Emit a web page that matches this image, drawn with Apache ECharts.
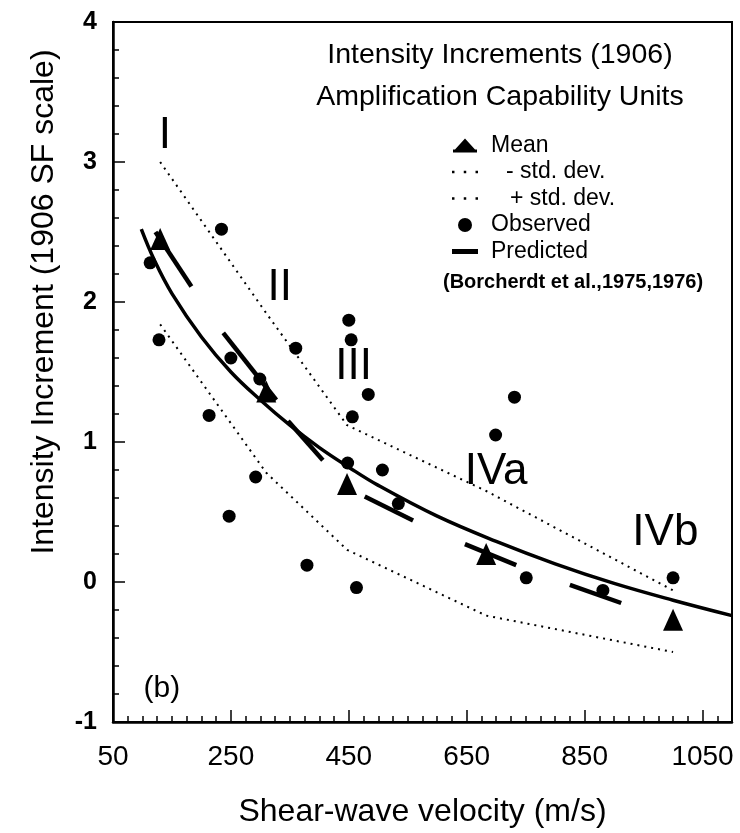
<!DOCTYPE html>
<html>
<head>
<meta charset="utf-8">
<title>Intensity Increments (1906)</title>
<script src="https://cdn.jsdelivr.net/npm/echarts@6.0.0/dist/echarts.min.js"></script>
<style>
  html, body { margin: 0; padding: 0; background: #fff; }
  #chart { width: 740px; height: 833px; }
</style>
</head>
<body>
<div id="chart"></div>
<script>
// values
const meanV = [130, 310, 447, 683, 1000];
const meanI = [2.45, 1.36, 0.70, 0.20, -0.27];
const minusStdI = [1.84, 0.78, 0.23, -0.24, -0.50];
const plusStdI = [3.00, 1.92, 1.12, 0.65, -0.06];

const obsV = [113, 128, 234, 213, 250, 247, 292, 299, 360, 379, 448, 450, 454, 456, 463, 483, 507, 534, 699, 731, 751, 881, 1000];
const obsI = [2.28, 1.73, 2.52, 1.19, 1.60, 0.47, 0.75, 1.45, 1.67, 0.12, 0.85, 1.87, 1.73, 1.18, -0.04, 1.34, 0.80, 0.56, 1.05, 1.32, 0.03, -0.06, 0.03];

// fitted curve (solid)
const curveV = [98, 120, 150, 200, 250, 300, 350, 400, 450, 500, 600, 700, 800, 900, 1000, 1100];
const curveI = [2.52, 2.30, 2.06, 1.75, 1.50, 1.30, 1.12, 0.96, 0.82, 0.69, 0.47, 0.29, 0.13, -0.01, -0.13, -0.24];

// predicted segments, one per unit
const predicted = [
  [[122, 2.50], [183, 2.11]],
  [[237, 1.78], [327, 1.30]],
  [[347, 1.15], [406, 0.87]],
  [[477, 0.61], [559, 0.44]],
  [[647, 0.27], [734, 0.12]],
  [[825, -0.02], [912, -0.15]]
];

const unitNames = ['I', 'II', 'III', 'IVa', 'IVb'];
const unitLabelV = [138, 333, 458, 700, 987];
const unitLabelI = [3.19, 2.10, 1.54, 0.79, 0.35];

const panelTag = { name: '(b)', v: 133, i: -0.76 };

const FONT = "'Liberation Sans', Arial, Helvetica, sans-serif";

function pairs(xs, ys) {
  return xs.map(function (x, k) { return [x, ys[k]]; });
}

const chart = echarts.init(document.getElementById('chart'));

const series = [
  {
    name: 'Fit',
    type: 'line',
    smooth: 0.4,
    symbol: 'none',
    data: pairs(curveV, curveI),
    lineStyle: { color: '#000', width: 3.5 },
    z: 3
  },
  {
    name: '- std. dev.',
    type: 'line',
    symbol: 'none',
    data: pairs(meanV, minusStdI),
    itemStyle: { color: '#000' },
    lineStyle: { color: '#000', width: 2, type: [2, 5] },
    z: 2
  },
  {
    name: '+ std. dev.',
    type: 'line',
    symbol: 'none',
    data: pairs(meanV, plusStdI),
    itemStyle: { color: '#000' },
    lineStyle: { color: '#000', width: 2, type: [2, 5] },
    z: 2
  },
  {
    name: 'Mean',
    type: 'scatter',
    symbol: 'triangle',
    symbolSize: [20, 22],
    itemStyle: { color: '#000', opacity: 1 },
    data: pairs(meanV, meanI),
    z: 5
  },
  {
    name: 'Observed',
    type: 'scatter',
    symbol: 'circle',
    symbolSize: 13,
    itemStyle: { color: '#000', opacity: 1 },
    data: pairs(obsV, obsI),
    z: 5
  },
  {
    name: 'Units',
    type: 'scatter',
    symbolSize: 0,
    silent: true,
    itemStyle: { opacity: 1 },
    label: {
      show: true,
      position: 'inside',
      formatter: '{b}',
      color: '#000',
      fontSize: 44,
      fontFamily: FONT
    },
    data: unitNames.map(function (n, k) {
      return { name: n, value: [unitLabelV[k], unitLabelI[k]] };
    }).concat([{
      name: panelTag.name,
      value: [panelTag.v, panelTag.i],
      label: { fontSize: 30 }
    }]),
    z: 6
  }
];

predicted.forEach(function (seg) {
  series.push({
    name: 'Predicted',
    type: 'line',
    symbol: 'none',
    data: seg,
    itemStyle: { color: '#000' },
    lineStyle: { color: '#000', width: 4.5 },
    z: 4
  });
});

const dotsIcon = 'path://M0,0h2v2h-2zM9.5,0h2v2h-2zM19,0h2v2h-2z';

const option = {
  backgroundColor: '#fff',
  animation: false,
  textStyle: { fontFamily: FONT },
  title: {
    text: 'Intensity Increments (1906)',
    subtext: 'Amplification Capability Units',
    left: 495,
    top: 36,
    textAlign: 'center',
    itemGap: 13,
    textStyle: { fontSize: 28.5, fontWeight: 'normal', color: '#000', fontFamily: FONT },
    subtextStyle: { fontSize: 28.5, color: '#000', fontFamily: FONT }
  },
  legend: {
    orient: 'vertical',
    left: 447,
    top: 129,
    itemWidth: 26,
    itemHeight: 14,
    itemGap: 3.5,
    selectedMode: false,
    symbolKeepAspect: true,
    textStyle: { fontSize: 23, color: '#000', fontFamily: FONT, padding: [0, 0, 0, 8] },
    data: [
      { name: 'Mean', icon: 'path://M12,0L22,11L2,11ZM0,11h24v3h-24z' },
      { name: '- std. dev.', icon: dotsIcon, textStyle: { padding: [0, 0, 0, 23] } },
      { name: '+ std. dev.', icon: dotsIcon, textStyle: { padding: [0, 0, 0, 27] } },
      { name: 'Observed', icon: 'path://M13,1a6,6 0 1,0 0.01,0Z' },
      { name: 'Predicted', icon: 'path://M0,0h26v5h-26z' }
    ]
  },
  graphic: [
    {
      type: 'text',
      left: 443,
      top: 272,
      style: {
        text: '(Borcherdt et al.,1975,1976)',
        fontSize: 20,
        fontWeight: 'bold',
        fill: '#000',
        fontFamily: FONT
      }
    },
    {
      type: 'text',
      x: 44,
      y: 302,
      rotation: Math.PI / 2,
      style: {
        text: 'Intensity Increment (1906 SF scale)',
        fontSize: 32,
        fill: '#000',
        fontFamily: FONT,
        align: 'center',
        verticalAlign: 'middle'
      }
    }
  ],
  grid: {
    left: 113,
    right: 8,
    top: 22,
    bottom: 109,
    show: true,
    borderColor: '#000',
    borderWidth: 2
  },
  xAxis: [
    {
      type: 'value',
      min: 50,
      max: 1100,
      interval: 25,
      axisLine: { onZero: false, lineStyle: { color: '#000', width: 2.5 } },
      axisTick: { inside: true, length: 6, lineStyle: { color: '#000', width: 1.5 } },
      axisLabel: { show: false },
      splitLine: { show: false }
    },
    {
      type: 'value',
      position: 'bottom',
      min: 50,
      max: 1100,
      interval: 200,
      axisLine: { show: false, onZero: false },
      axisTick: { inside: true, length: 12, lineStyle: { color: '#000', width: 1.5 } },
      axisLabel: {
        color: '#000',
        fontSize: 28,
        margin: 21,
        showMaxLabel: false,
        fontFamily: FONT,
        formatter: function (v) { return String(v); }
      },
      splitLine: { show: false },
      name: 'Shear-wave velocity (m/s)',
      nameLocation: 'middle',
      nameGap: 74,
      nameTextStyle: { fontSize: 32, color: '#000', fontFamily: FONT }
    }
  ],
  yAxis: {
    type: 'value',
    min: -1,
    max: 4,
    interval: 1,
    axisLine: { show: true, lineStyle: { color: '#000', width: 2.5 } },
    axisTick: { show: true, inside: true, length: 12, lineStyle: { color: '#000', width: 1.5 } },
    minorTick: { show: true, splitNumber: 5, length: 6, lineStyle: { color: '#000', width: 1.5 } },
    axisLabel: { color: '#000', fontSize: 25, fontWeight: 'bold', margin: 16, fontFamily: FONT },
    splitLine: { show: false }
  },
  series: series
};

chart.setOption(option);
</script>
</body>
</html>
